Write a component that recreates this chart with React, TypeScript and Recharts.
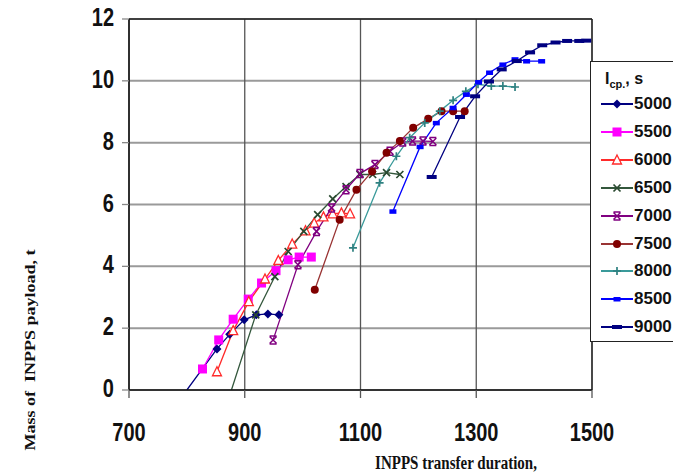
import { LineChart, Line, XAxis, YAxis, CartesianGrid, ReferenceLine } from 'recharts';

type Pt = { t: number; m: number };

// INPPS transfer duration (t) vs payload mass (m), one array per specific impulse
const isp5000: Pt[] = [
  { t: 800, m: 0 }, { t: 852, m: 1.33 }, { t: 874, m: 1.8 }, { t: 899, m: 2.27 },
  { t: 920, m: 2.43 }, { t: 940, m: 2.46 }, { t: 959, m: 2.43 },
];
const isp5500: Pt[] = [
  { t: 827, m: 0.68 }, { t: 855, m: 1.62 }, { t: 880, m: 2.29 }, { t: 906, m: 2.94 },
  { t: 929, m: 3.46 }, { t: 954, m: 3.86 }, { t: 975, m: 4.21 }, { t: 994, m: 4.3 },
  { t: 1015, m: 4.3 },
];
const isp6000: Pt[] = [
  { t: 852, m: 0.59 }, { t: 880, m: 1.92 }, { t: 907, m: 2.86 }, { t: 935, m: 3.59 },
  { t: 958, m: 4.19 }, { t: 982, m: 4.72 }, { t: 1005, m: 5.15 }, { t: 1020, m: 5.4 },
  { t: 1036, m: 5.6 }, { t: 1052, m: 5.7 }, { t: 1067, m: 5.73 }, { t: 1082, m: 5.7 },
];
const isp6500: Pt[] = [
  { t: 877, m: 0 }, { t: 919, m: 2.43 }, { t: 952, m: 3.67 }, { t: 975, m: 4.48 },
  { t: 1002, m: 5.13 }, { t: 1026, m: 5.67 }, { t: 1052, m: 6.18 }, { t: 1075, m: 6.58 },
  { t: 1099, m: 6.97 }, { t: 1121, m: 6.97 }, { t: 1145, m: 7.03 }, { t: 1168, m: 6.97 },
];
const isp7000: Pt[] = [
  { t: 949, m: 1.62 }, { t: 992, m: 4.05 }, { t: 1024, m: 5.13 }, { t: 1050, m: 5.89 },
  { t: 1075, m: 6.48 }, { t: 1099, m: 7.0 }, { t: 1125, m: 7.29 }, { t: 1151, m: 7.72 },
  { t: 1173, m: 8.02 }, { t: 1190, m: 8.05 }, { t: 1208, m: 8.05 }, { t: 1225, m: 8.04 },
];
const isp7500: Pt[] = [
  { t: 1021, m: 3.24 }, { t: 1064, m: 5.51 }, { t: 1093, m: 6.48 }, { t: 1120, m: 7.07 },
  { t: 1145, m: 7.67 }, { t: 1168, m: 8.05 }, { t: 1191, m: 8.48 }, { t: 1217, m: 8.77 },
  { t: 1240, m: 9.02 }, { t: 1260, m: 9.02 }, { t: 1280, m: 9.02 },
];
const isp8000: Pt[] = [
  { t: 1087, m: 4.6 }, { t: 1133, m: 6.7 }, { t: 1162, m: 7.56 }, { t: 1185, m: 8.16 },
  { t: 1211, m: 8.64 }, { t: 1237, m: 9.02 }, { t: 1260, m: 9.37 }, { t: 1282, m: 9.66 },
  { t: 1303, m: 9.89 }, { t: 1326, m: 9.83 }, { t: 1346, m: 9.83 }, { t: 1367, m: 9.8 },
];
const isp8500: Pt[] = [
  { t: 1156, m: 5.78 }, { t: 1203, m: 7.87 }, { t: 1231, m: 8.64 }, { t: 1260, m: 9.13 },
  { t: 1283, m: 9.56 }, { t: 1304, m: 9.96 }, { t: 1323, m: 10.27 }, { t: 1346, m: 10.53 },
  { t: 1367, m: 10.7 }, { t: 1387, m: 10.64 }, { t: 1413, m: 10.64 },
];
const isp9000: Pt[] = [
  { t: 1223, m: 6.89 }, { t: 1272, m: 8.83 }, { t: 1298, m: 9.5 }, { t: 1322, m: 9.98 },
  { t: 1344, m: 10.37 }, { t: 1370, m: 10.64 }, { t: 1393, m: 10.92 }, { t: 1414, m: 11.15 },
  { t: 1437, m: 11.24 }, { t: 1457, m: 11.29 }, { t: 1478, m: 11.29 }, { t: 1490, m: 11.3 },
];

const xTicks = [700, 900, 1100, 1300, 1500];
const yTicks = [0, 2, 4, 6, 8, 10, 12];

type Shape = 'diamond' | 'square' | 'triangle' | 'cross' | 'star' | 'circle' | 'plus' | 'dash' | 'bar';

const series: { name: string; data: Pt[]; color: string; mark: string; shape: Shape; skip: number[] }[] = [
  { name: '5000', data: isp5000, color: '#000080', mark: '#000080', shape: 'diamond', skip: [0] },
  { name: '5500', data: isp5500, color: '#ff00ff', mark: '#ff00ff', shape: 'square', skip: [] },
  { name: '6000', data: isp6000, color: '#ff2a2a', mark: '#ff2a2a', shape: 'triangle', skip: [] },
  { name: '6500', data: isp6500, color: '#33573c', mark: '#2a4a30', shape: 'cross', skip: [0] },
  { name: '7000', data: isp7000, color: '#800080', mark: '#800080', shape: 'star', skip: [] },
  { name: '7500', data: isp7500, color: '#993333', mark: '#800000', shape: 'circle', skip: [] },
  { name: '8000', data: isp8000, color: '#3a9a9a', mark: '#2e8080', shape: 'plus', skip: [] },
  { name: '8500', data: isp8500, color: '#0000ff', mark: '#0000ff', shape: 'dash', skip: [] },
  { name: '9000', data: isp9000, color: '#000080', mark: '#000080', shape: 'bar', skip: [] },
];

function drawMarker(shape: Shape, color: string, cx: number, cy: number, key: string) {
  switch (shape) {
    case 'diamond':
      return <path key={key} d={`M${cx},${cy - 4.5}L${cx + 4.5},${cy}L${cx},${cy + 4.5}L${cx - 4.5},${cy}Z`} fill={color} />;
    case 'square':
      return <rect key={key} x={cx - 4.5} y={cy - 4.5} width={9} height={9} fill={color} />;
    case 'triangle':
      return <path key={key} d={`M${cx},${cy - 5}L${cx + 4.5},${cy + 4}L${cx - 4.5},${cy + 4}Z`} fill="#fff" stroke={color} strokeWidth={1.3} />;
    case 'cross':
      return <path key={key} d={`M${cx - 3.5},${cy - 3.5}L${cx + 3.5},${cy + 3.5}M${cx - 3.5},${cy + 3.5}L${cx + 3.5},${cy - 3.5}`} stroke={color} strokeWidth={1.7} />;
    case 'star':
      return <path key={key} d={`M${cx - 3.5},${cy - 3.5}L${cx + 3.5},${cy + 3.5}M${cx - 3.5},${cy + 3.5}L${cx + 3.5},${cy - 3.5}M${cx - 3.5},${cy - 4}H${cx + 3.5}M${cx - 3.5},${cy + 4}H${cx + 3.5}`} stroke={color} strokeWidth={1.5} />;
    case 'circle':
      return <circle key={key} cx={cx} cy={cy} r={4} fill={color} />;
    case 'plus':
      return <path key={key} d={`M${cx - 4},${cy}H${cx + 4}M${cx},${cy - 4}V${cy + 4}`} stroke={color} strokeWidth={1.7} />;
    case 'dash':
      return <rect key={key} x={cx - 3.5} y={cy - 2} width={7} height={4.5} fill={color} />;
    case 'bar':
      return <rect key={key} x={cx - 5} y={cy - 2} width={10} height={4} fill={color} />;
  }
}

const makeDot = (shape: Shape, color: string, skip: number[]) => (props: any) => {
  const { cx, cy, index } = props;
  const key = `m-${shape}-${index}`;
  if (cx == null || cy == null || skip.includes(index)) return <g key={key} />;
  return drawMarker(shape, color, cx, cy, key);
};

const tickFont = "'Liberation Sans', Arial, sans-serif";
const serifFont = "'Liberation Serif', 'Times New Roman', serif";

const XTick = (props: any) => {
  const { x, y, payload } = props;
  return (
    <text transform={`translate(${x},${y + 41}) scale(1,1.3)`} textAnchor="middle" fontFamily={tickFont} fontWeight="bold" fontSize={20} fill="#111">
      {payload.value}
    </text>
  );
};

const YTick = (props: any) => {
  const { x, y, payload } = props;
  return (
    <text transform={`translate(${x - 6},${y}) scale(1,1.3)`} y={5.5} textAnchor="end" fontFamily={tickFont} fontWeight="bold" fontSize={20} fill="#111">
      {payload.value}
    </text>
  );
};

function LegendBox() {
  return (
    <div
      style={{
        position: 'absolute',
        left: 590,
        top: 61,
        width: 110,
        height: 279,
        border: '1.5px solid #222',
        background: '#fff',
        fontFamily: tickFont,
        fontWeight: 'bold',
        color: '#111',
      }}
    >
      <div style={{ position: 'absolute', left: 14, top: 8, fontSize: 16, whiteSpace: 'nowrap' }}>
        I<sub style={{ fontSize: 11 }}>cp.</sub>, s
      </div>
      {series.map((s, i) => (
        <div key={s.name} style={{ position: 'absolute', left: 0, top: 30 + i * 27.9, height: 24, width: 110 }}>
          <svg width={42} height={24} style={{ position: 'absolute', left: 8, top: 0 }}>
            <line x1={2} y1={12} x2={34} y2={12} stroke={s.color} strokeWidth={2} />
            {drawMarker(s.shape, s.mark, 18, 12, 'lg')}
          </svg>
          <span style={{ position: 'absolute', left: 43, top: 2, fontSize: 17 }}>{s.name}</span>
        </div>
      ))}
    </div>
  );
}

export default function App() {
  return (
    <div style={{ position: 'fixed', left: 0, top: 0, width: 673, height: 476, background: '#fff', overflow: 'hidden' }}>
      <LineChart width={673} height={476} margin={{ top: 19, right: 81, bottom: 0, left: 0 }}>
        <CartesianGrid horizontal vertical={false} stroke="#9a9a9a" strokeWidth={2} />
        <CartesianGrid horizontal={false} vertical stroke="#555" strokeWidth={1.3} />
        <XAxis
          type="number"
          dataKey="t"
          domain={[700, 1500]}
          ticks={xTicks}
          allowDataOverflow
          height={86}
          tickSize={8}
          tickMargin={2}
          axisLine={{ stroke: '#111', strokeWidth: 1.5 }}
          tickLine={{ stroke: '#555', strokeWidth: 1.3 }}
          tick={<XTick />}
        />
        <YAxis
          type="number"
          dataKey="m"
          domain={[0, 12]}
          ticks={yTicks}
          allowDataOverflow
          width={129}
          tickSize={7}
          tickMargin={2}
          axisLine={{ stroke: '#111', strokeWidth: 1.5 }}
          tickLine={{ stroke: '#888', strokeWidth: 1.3 }}
          tick={<YTick />}
        />
        <ReferenceLine y={12} stroke="#222" strokeWidth={1.3} />
        <ReferenceLine x={1500} stroke="#222" strokeWidth={1.3} />
        {series.map((s) => (
          <Line
            key={s.name}
            data={s.data}
            dataKey="m"
            name={s.name}
            type="linear"
            stroke={s.color}
            strokeWidth={1.3}
            dot={makeDot(s.shape, s.mark, s.skip)}
            activeDot={false}
            isAnimationActive={false}
          />
        ))}
      </LineChart>
      <LegendBox />
      <div
        style={{
          position: 'absolute',
          left: 30,
          top: 350,
          transform: 'translate(-50%,-50%) rotate(-90deg) scaleX(1.2)',
          whiteSpace: 'nowrap',
          fontFamily: serifFont,
          fontWeight: 'bold',
          fontSize: 15,
          color: '#111',
        }}
      >
        Mass of&nbsp; INPPS payload, t
      </div>
      <div
        style={{
          position: 'absolute',
          left: 456,
          top: 463,
          transform: 'translate(-50%,-50%) scaleY(1.3)',
          whiteSpace: 'nowrap',
          fontFamily: serifFont,
          fontWeight: 'bold',
          fontSize: 15,
          color: '#111',
        }}
      >
        INPPS transfer duration,
      </div>
    </div>
  );
}
